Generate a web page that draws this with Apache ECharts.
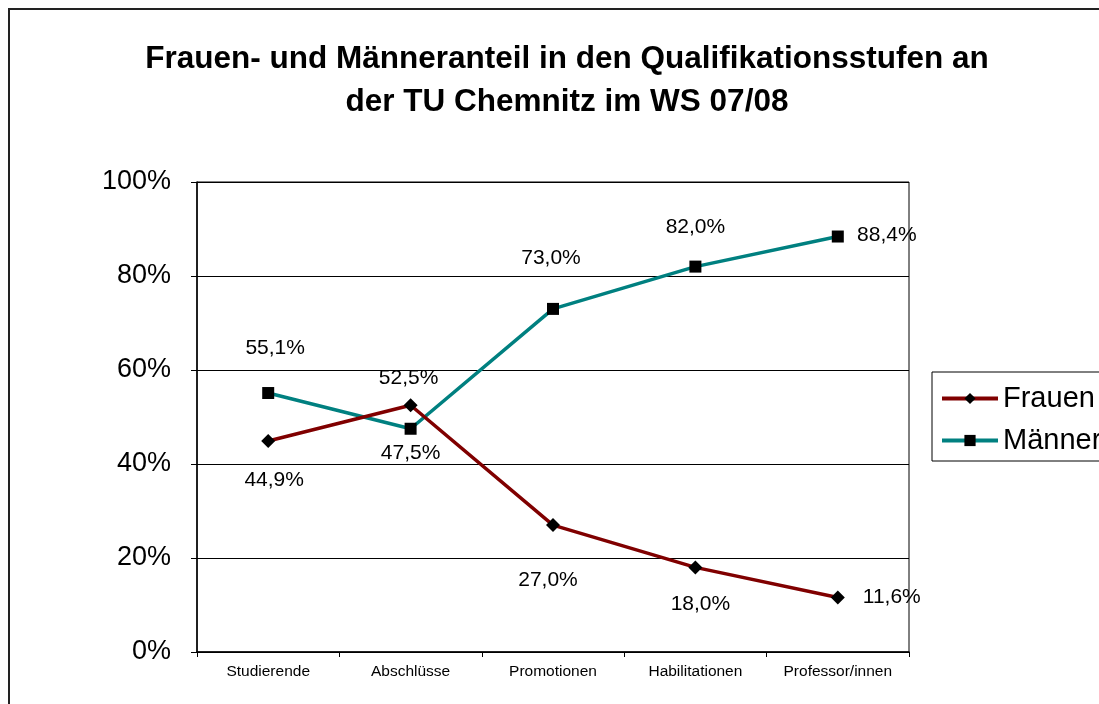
<!DOCTYPE html>
<html>
<head>
<meta charset="utf-8">
<script src="https://cdn.jsdelivr.net/npm/echarts@6/dist/echarts.min.js"></script>
<style>
  html, body { margin: 0; padding: 0; background: #fff; }
  #chart { width: 1099px; height: 704px; }
</style>
</head>
<body>
<div id="chart"></div>
<script>
const categories = ['Studierende', 'Abschlüsse', 'Promotionen', 'Habilitationen', 'Professor/innen']
const frauen = [44.9, 52.5, 27.0, 18.0, 11.6]
const maenner = [55.1, 47.5, 73.0, 82.0, 88.4]
const yTicks = [0, 20, 40, 60, 80, 100]

// Label-Versatz je Punkt (nur Optik)
const frauenOffsets = [[6, 39], [-2, -27], [-5, 55], [5, 37], [54, 0]]
const maennerOffsets = [[7, -45], [0, 24], [-2, -51], [0, -39], [49, -1]]

const FONT = 'Liberation Sans, Arial, sans-serif'
const fmt = v => v.toFixed(1).replace('.', ',') + '%'

const withLabels = (values, offsets) => values.map((v, i) => ({
  value: v,
  label: { show: true, position: 'inside', offset: offsets[i] }
}))

const chart = echarts.init(document.getElementById('chart'))

const option = {
  animation: false,
  backgroundColor: '#fff',
  title: {
    text: 'Frauen- und Männeranteil in den Qualifikationsstufen an\nder TU Chemnitz im WS 07/08',
    left: 562,
    textAlign: 'center',
    top: 33,
    textStyle: {
      fontFamily: FONT,
      fontSize: 31.5,
      fontWeight: 'bold',
      color: '#000',
      lineHeight: 43
    }
  },
  graphic: [{
    type: 'rect',
    shape: { x: 9, y: 9, width: 1200, height: 800 },
    style: { fill: 'none', stroke: '#222', lineWidth: 2 },
    silent: true
  }],
  legend: {
    orient: 'vertical',
    left: 932,
    top: 372,
    padding: [12, 20, 6, 8],
    borderColor: '#000',
    borderWidth: 1,
    itemWidth: 56,
    itemHeight: 14,
    itemGap: 13,
    lineStyle: { width: 4 },
    textStyle: {
      fontFamily: FONT,
      fontSize: 29,
      color: '#000'
    },
    data: ['Frauen', 'Männer']
  },
  grid: {
    left: 197,
    top: 182,
    width: 712,
    height: 470,
    show: true,
    borderColor: '#000',
    borderWidth: 1,
    containLabel: false
  },
  xAxis: {
    type: 'category',
    data: categories,
    boundaryGap: true,
    axisLine: { lineStyle: { color: '#000', width: 1.5 } },
    axisTick: { show: true, length: 5, lineStyle: { color: '#000' } },
    axisLabel: {
      interval: 0,
      hideOverlap: false,
      margin: 12,
      fontFamily: FONT,
      fontSize: 15.5,
      color: '#000'
    }
  },
  yAxis: {
    type: 'value',
    min: yTicks[0],
    max: yTicks[yTicks.length - 1],
    interval: 20,
    axisLine: { show: true, lineStyle: { color: '#000', width: 1.5 } },
    axisTick: { show: true, length: 6, lineStyle: { color: '#000' } },
    splitLine: { show: true, lineStyle: { color: '#000', width: 1 } },
    axisLabel: {
      margin: 26,
      formatter: v => v + '%',
      fontFamily: FONT,
      fontSize: 27,
      color: '#000'
    }
  },
  series: [
    {
      name: 'Frauen',
      type: 'line',
      data: withLabels(frauen, frauenOffsets),
      symbol: 'diamond',
      symbolSize: 14,
      lineStyle: { color: '#800000', width: 3.5 },
      itemStyle: { color: '#000' },
      label: {
        formatter: p => fmt(p.value),
        fontFamily: FONT,
        fontSize: 21,
        color: '#000'
      },
      z: 3
    },
    {
      name: 'Männer',
      type: 'line',
      data: withLabels(maenner, maennerOffsets),
      symbol: 'rect',
      symbolSize: 12,
      lineStyle: { color: '#008080', width: 3.5 },
      itemStyle: { color: '#000' },
      label: {
        formatter: p => fmt(p.value),
        fontFamily: FONT,
        fontSize: 21,
        color: '#000'
      },
      z: 2
    }
  ]
}

chart.setOption(option)
</script>
</body>
</html>
